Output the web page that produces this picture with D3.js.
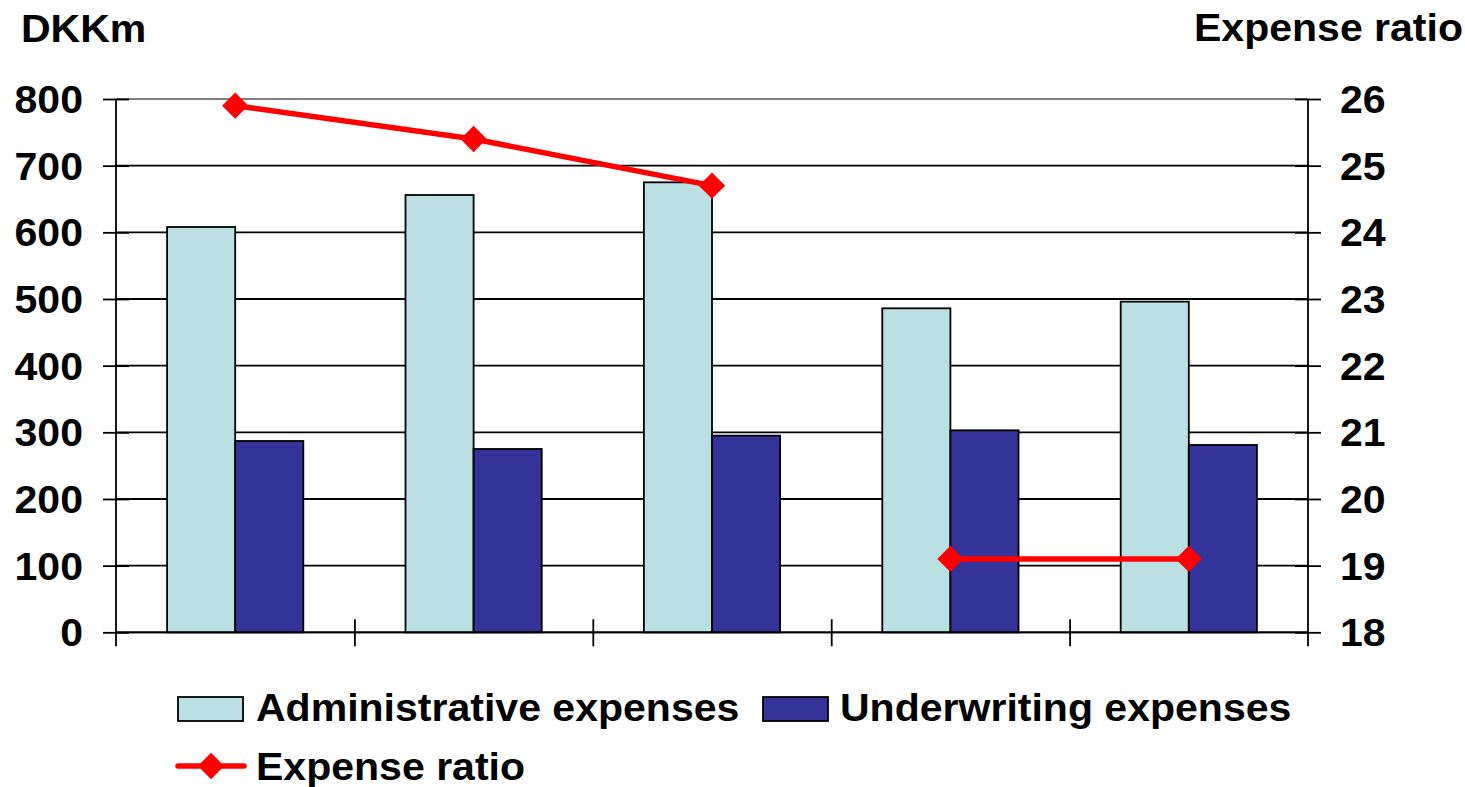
<!DOCTYPE html>
<html>
<head>
<meta charset="utf-8">
<script src="https://cdn.jsdelivr.net/npm/d3@7"></script>
<style>
  html, body { margin: 0; padding: 0; background: #fff; }
  svg text { font-family: "Liberation Sans", Arial, sans-serif; font-weight: bold; fill: #000; }
</style>
</head>
<body>
<svg id="chart" width="1465" height="787"></svg>
<script>
// Periods shown on the category axis (labels are not printed on the chart)
const periods = ["P1", "P2", "P3", "P4", "P5"];

// Expenses, DKKm
const adminExpenses = [608, 656, 675, 486, 496];
const underwritingExpenses = [287, 275, 295, 303, 281];

// Expense ratio (right axis); points are only joined within the same basis
const expenseRatio = [25.9, 25.4, 24.7, 19.1, 19.1];
const ratioBasis = ["old", "old", "old", "new", "new"];

// Axis ticks
const leftTicks = [0, 100, 200, 300, 400, 500, 600, 700, 800];
const rightTicks = [18, 19, 20, 21, 22, 23, 24, 25, 26];

const seriesNames = ["Administrative expenses", "Underwriting expenses", "Expense ratio"];
const seriesKeys = ["admin", "under"];
const colors = { admin: "#BBE0E3", under: "#333399", ratio: "#FF0000" };

const FONT = 38;       // px
const STRETCH = 1.08;  // horizontal stretch of all lettering
const RULE = 1.8;      // stroke width of rules and outlines

const svg = d3.select("#chart");
const plot = { left: 116, right: 1308, top: 99, bottom: 632.3 };

// Scales
const x = d3.scaleBand().domain(periods).range([plot.left, plot.right]).paddingInner(0).paddingOuter(0);
const xInner = d3.scaleBand().domain(seriesKeys).range([0, x.bandwidth()]).paddingInner(0).paddingOuter(0.75);
const xEdges = d3.scaleLinear().domain([0, periods.length]).range([plot.left, plot.right]);
const yLeft = d3.scaleLinear().domain([0, 800]).range([plot.bottom, plot.top]);
const yRight = d3.scaleLinear().domain([18, 26]).range([plot.bottom, plot.top]);

// Helper to place horizontally stretched text
function label(parent, txt, px, py, anchor) {
  const g = parent.append("g").attr("transform", `translate(${px},${py}) scale(${STRETCH},1)`);
  g.append("text").attr("text-anchor", anchor || "start").style("font-size", FONT + "px").text(txt);
  return g;
}

// Gridlines
svg.append("g").selectAll("line").data(leftTicks).join("line")
  .attr("x1", plot.left).attr("x2", plot.right)
  .attr("y1", d => yLeft(d)).attr("y2", d => yLeft(d))
  .attr("stroke", d => d === 800 ? "#808080" : "#000")
  .attr("stroke-width", RULE);

// Bars
const groups = svg.append("g").selectAll("g").data(periods).join("g")
  .attr("transform", d => `translate(${x(d)},0)`);
groups.selectAll("rect")
  .data((d, i) => [
    { key: "admin", value: adminExpenses[i] },
    { key: "under", value: underwritingExpenses[i] }
  ])
  .join("rect")
  .attr("x", d => xInner(d.key))
  .attr("width", xInner.bandwidth())
  .attr("y", d => yLeft(d.value))
  .attr("height", d => yLeft(0) - yLeft(d.value))
  .attr("fill", d => colors[d.key])
  .attr("stroke", "#000")
  .attr("stroke-width", RULE);

// Left axis
const leftAxis = svg.append("g")
  .attr("transform", `translate(${plot.left + 13},0)`)
  .call(d3.axisLeft(yLeft).tickValues(leftTicks).tickSizeInner(26).tickSizeOuter(0).tickPadding(20));
leftAxis.select(".domain").remove();
leftAxis.selectAll(".tick line").attr("stroke", "#000").attr("stroke-width", RULE);
leftAxis.selectAll(".tick text").text(null);
leftAxis.selectAll(".tick").each(function(d) {
  label(d3.select(this), d3.format("d")(d), -46, 13.6, "end");
});
svg.append("line")
  .attr("x1", plot.left).attr("x2", plot.left)
  .attr("y1", plot.top).attr("y2", plot.bottom + 14)
  .attr("stroke", "#000").attr("stroke-width", RULE);

// Right axis
const rightAxis = svg.append("g")
  .attr("transform", `translate(${plot.right - 13},0)`)
  .call(d3.axisRight(yRight).tickValues(rightTicks).tickSizeInner(26).tickSizeOuter(0).tickPadding(20));
rightAxis.select(".domain").remove();
rightAxis.selectAll(".tick line").attr("stroke", "#000").attr("stroke-width", RULE);
rightAxis.selectAll(".tick text").text(null);
rightAxis.selectAll(".tick").each(function(d) {
  label(d3.select(this), d3.format("d")(d), 45, 13.6, "start");
});
svg.append("line")
  .attr("x1", plot.right).attr("x2", plot.right)
  .attr("y1", plot.top).attr("y2", plot.bottom + 14)
  .attr("stroke", "#000").attr("stroke-width", RULE);

// Category axis: baseline plus crossing ticks at band edges
svg.append("line")
  .attr("x1", plot.left).attr("x2", plot.right)
  .attr("y1", yLeft(0)).attr("y2", yLeft(0))
  .attr("stroke", "#000").attr("stroke-width", RULE);
const bottomAxis = svg.append("g")
  .attr("transform", `translate(0,${yLeft(0) - 13})`)
  .call(d3.axisBottom(xEdges).tickValues(d3.range(1, periods.length)).tickSizeInner(27).tickSizeOuter(0).tickFormat(""));
bottomAxis.select(".domain").remove();
bottomAxis.selectAll(".tick line").attr("stroke", "#000").attr("stroke-width", RULE);

// Expense ratio line
const ratioPts = periods.map((p, i) => ({ x: x(p) + x.bandwidth() / 2, y: yRight(expenseRatio[i]), basis: ratioBasis[i] }));
const line = d3.line().x(d => d.x).y(d => d.y);
d3.groups(ratioPts, d => d.basis).forEach(([, pts]) => {
  svg.append("path").attr("d", line(pts))
    .attr("fill", "none").attr("stroke", colors.ratio).attr("stroke-width", 5.5)
    .attr("stroke-linejoin", "round");
});
const diamond = d3.symbol(d3.symbolSquare, 345);
svg.append("g").selectAll("path").data(ratioPts).join("path")
  .attr("d", diamond)
  .attr("transform", d => `translate(${d.x},${d.y}) rotate(45)`)
  .attr("fill", colors.ratio);

// Axis titles
label(svg, "DKKm", 21, 42, "start");
label(svg, "Expense ratio", 1463, 41, "end");

// Legend
const legend = svg.append("g");
legend.append("rect").attr("x", 178).attr("y", 697).attr("width", 65).attr("height", 24)
  .attr("fill", colors.admin).attr("stroke", "#000").attr("stroke-width", RULE);
label(legend, seriesNames[0], 256, 721, "start");
legend.append("rect").attr("x", 763).attr("y", 697).attr("width", 65).attr("height", 24)
  .attr("fill", colors.under).attr("stroke", "#000").attr("stroke-width", RULE);
label(legend, seriesNames[1], 840, 721, "start");
legend.append("line").attr("x1", 178).attr("x2", 244).attr("y1", 766).attr("y2", 766)
  .attr("stroke", colors.ratio).attr("stroke-width", 5.5).attr("stroke-linecap", "round");
legend.append("path").attr("d", diamond).attr("transform", "translate(211,766) rotate(45)").attr("fill", colors.ratio);
label(legend, seriesNames[2], 256, 780, "start");
</script>
</body>
</html>
